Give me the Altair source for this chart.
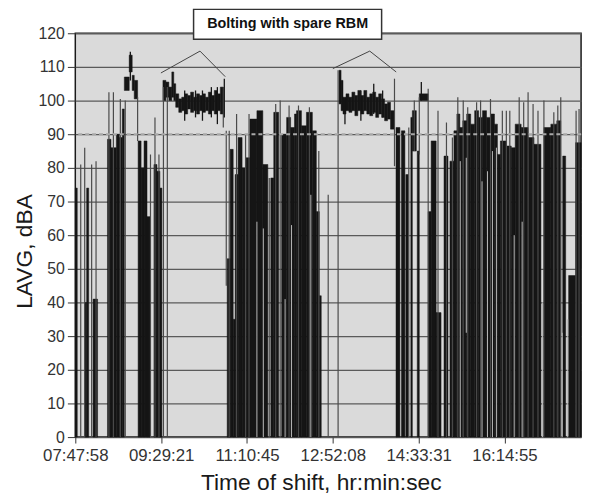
import altair as alt
import pandas as pd

# time axis: elapsed minutes since 07:47:58
tick_vals = [0, 101.39, 202.78, 304.17, 405.56, 506.95]
tick_labels = ["07:47:58", "09:29:21", "11:10:45", "12:52:08", "14:33:31", "16:14:55"]
y_ticks = list(range(0, 121, 10))

# dense noise bursts (start min, end min, low dBA, high dBA)
noise_blocks = [
    (0.0, 2.3, 0, 74), (11.1, 13.4, 0, 40), (13.4, 15.8, 0, 74), (21.0, 26.3, 0, 41),
    (38.0, 42.1, 0, 88.5), (42.1, 48.5, 0, 86), (48.5, 52.0, 0, 90), (52.0, 55.5, 0, 89),
    (55.5, 57.9, 0, 97.5), (57.9, 63.7, 103, 107), (63.7, 67.2, 108.5, 113.5),
    (67.2, 69.6, 103, 107.5), (69.6, 73.6, 100.5, 106), (74.2, 77.7, 0, 88),
    (77.7, 81.2, 0, 80), (81.2, 84.7, 0, 88), (84.7, 88.3, 0, 65.5), (92.9, 96.4, 0, 81),
    (96.4, 99.9, 0, 79), (99.9, 102.3, 0, 74),
]
bolting1 = [
    (103.5, 107.0, 100, 106), (107.0, 110.5, 101, 105.5), (110.5, 114.0, 100, 104),
    (114.0, 116.3, 101, 108.5), (116.3, 118.6, 100, 105), (118.6, 122.2, 98, 102),
    (122.2, 125.7, 96.5, 100.5), (125.7, 129.2, 97, 101), (129.2, 132.7, 96, 102),
    (132.7, 136.2, 97.5, 101.5), (136.2, 139.7, 96.5, 102.5), (139.7, 143.2, 97, 101),
    (143.2, 146.7, 96, 102), (146.7, 150.2, 97, 101.5), (150.2, 153.7, 96.5, 102),
    (153.7, 157.2, 97, 101), (157.2, 160.7, 96, 102.5), (160.7, 164.2, 97, 101.5),
    (164.2, 167.8, 96, 103), (167.8, 171.3, 97, 102), (171.3, 174.8, 96, 104),
]
midday_blocks = [
    (179.4, 182.9, 0, 53), (182.9, 186.5, 0, 85.5), (186.5, 188.8, 0, 35),
    (188.8, 192.3, 0, 78), (192.3, 197.0, 0, 89), (197.0, 201.7, 0, 80),
    (201.7, 206.3, 0, 83), (206.3, 214.5, 0, 94.5), (214.5, 221.5, 0, 97),
    (221.5, 227.4, 0, 81), (230.9, 234.4, 0, 77), (234.4, 240.2, 0, 96.5),
    (243.7, 249.6, 0, 90), (249.6, 254.3, 0, 95), (254.3, 258.9, 0, 92),
    (258.9, 261.3, 0, 96), (261.3, 267.1, 0, 97), (267.1, 273.0, 0, 92.5),
    (273.0, 280.0, 0, 96.5), (280.0, 284.7, 0, 91), (284.7, 288.2, 0, 67),
    (288.2, 290.5, 0, 42),
]
bolting2 = [
    (311.5, 313.9, 99, 109), (313.9, 316.2, 97, 106), (316.2, 319.7, 96, 101),
    (319.7, 323.2, 97, 102), (323.2, 326.7, 96.5, 101), (326.7, 330.2, 97, 102.5),
    (330.2, 333.7, 95.5, 101.5), (333.7, 337.3, 97, 103), (337.3, 340.8, 96, 101.5),
    (340.8, 344.3, 97, 103), (344.3, 347.8, 96, 101), (347.8, 351.3, 95.5, 102),
    (351.3, 354.8, 96.5, 102.5), (354.8, 358.3, 95, 101), (358.3, 361.8, 96, 102),
    (361.8, 365.3, 95, 100.5), (365.3, 368.8, 94, 99), (368.8, 372.3, 94.5, 99.5),
    (372.3, 377.0, 91.5, 97),
]
late_blocks = [
    (378.8, 383.4, 0, 92), (385.2, 389.3, 0, 91), (390.4, 393.3, 0, 78),
    (396.3, 398.1, 0, 95), (398.1, 402.8, 85, 97), (403.9, 406.3, 0, 85),
    (406.3, 416.8, 100, 102), (416.8, 420.3, 0, 67), (420.3, 426.2, 0, 88),
    (426.2, 432.0, 0, 37), (435.5, 440.2, 0, 83.5), (442.5, 447.2, 0, 82),
    (447.2, 450.7, 0, 91), (450.7, 454.2, 0, 96), (454.2, 457.7, 0, 92),
    (457.7, 462.3, 0, 94), (462.3, 467.0, 0, 96), (467.0, 471.7, 0, 93),
    (471.7, 476.4, 0, 97), (476.4, 481.0, 0, 95), (481.0, 485.7, 0, 97),
    (485.7, 490.4, 0, 95), (490.4, 495.1, 0, 96), (495.1, 498.6, 0, 93),
    (498.6, 502.1, 0, 84), (502.1, 509.1, 0, 88), (509.1, 514.9, 0, 86.5),
    (514.9, 519.6, 0, 86), (519.6, 526.6, 0, 93), (526.6, 534.8, 0, 92),
    (534.8, 541.8, 0, 89), (541.8, 550.0, 0, 87), (553.5, 561.7, 0, 92),
    (561.7, 568.7, 0, 93), (568.7, 573.4, 0, 94), (575.7, 579.2, 0, 83.5),
    (582.7, 590.9, 0, 48), (590.9, 597.4, 0, 87.5),
]

# single-sample excursions (minute, low, high)
spikes = [
    (6.4, 0, 81), (11.1, 0, 86), (19.3, 0, 81), (24.5, 0, 82), (39.7, 0, 102.5),
    (45.0, 0, 102.5), (53.2, 0, 100.5), (59.0, 0, 100), (73.6, 88, 101), (88.8, 0, 84),
    (94.1, 0, 95), (98.8, 0, 84), (104.1, 0, 104), (108.7, 0, 104), (174.8, 92, 104),
    (178.3, 45, 91), (181.8, 0, 91), (190.5, 0, 96), (201.1, 0, 90), (205.2, 0, 96),
    (229.1, 0, 77), (236.7, 0, 99), (242.0, 0, 100), (252.5, 0, 98.5), (263.6, 0, 98.5),
    (276.5, 0, 98), (287.6, 0, 85), (298.7, 0, 72), (310.4, 0, 109), (377.0, 80.5, 106.5),
    (393.9, 0, 92), (400.4, 85, 100), (406.3, 84, 101), (416.8, 0, 103.5), (428.4, 0, 97),
    (438.4, 0, 93.5), (445.4, 0, 89), (451.8, 0, 101), (458.2, 0, 100), (463.5, 0, 98),
    (474.0, 0, 99.5), (478.7, 0, 100), (490.4, 0, 100.5), (504.4, 0, 97), (509.1, 0, 97),
    (513.2, 0, 97), (524.3, 0, 101), (529.6, 0, 99.5), (534.8, 0, 102.5), (540.7, 0, 99),
    (546.5, 0, 97), (553.5, 0, 100), (565.2, 0, 96.5), (569.9, 0, 98.5), (573.4, 0, 101),
    (591.5, 0, 97), (595.0, 0, 97.5),
]
trace_spikes = [
    (65.0, 106, 114.5), (129.2, 94, 103), (142.0, 95, 103), (150.2, 94, 103),
    (160.7, 95, 104), (167.8, 93, 104), (176.0, 95, 106.5), (318.5, 93, 100),
    (337.3, 94, 103), (352.5, 96, 105), (363.0, 95, 103), (408.7, 100, 105.5),
]
# quiet dips inside bursts (minute, low, high)
gaps = [
    (214.5, 0, 64), (222.1, 0, 62), (247.8, 0, 41), (255.4, 0, 63), (278.2, 0, 72),
    (454.7, 0, 82), (461.8, 31, 83), (480.4, 0, 76), (486.9, 0, 79), (492.7, 0, 85),
    (497.4, 0, 86), (518.4, 0, 60), (527.8, 0, 64), (551.8, 0, 40), (575.1, 0, 31),
    (581.6, 0, 35),
]
limit_db = [90]

# annotation
note_text = "Bolting with spare RBM"
note_box = (139.7, 361.8, 118.2, 127.1)
note_pos = (250.8, 122.6)
callout_a = [(101.1, 108.2), (147.3, 114.7), (177.1, 107.1)]
callout_b = [(304.2, 109.5), (347.8, 114.7), (379.0, 108.5)]

FONT = "Liberation Sans"
BLACK = "#151515"

blocks_df = pd.DataFrame(noise_blocks + bolting1 + midday_blocks + bolting2 + late_blocks,
                         columns=["t", "t2", "y", "y2"])
spikes_df = pd.DataFrame(spikes, columns=["t", "y", "y2"])
trace_df = pd.DataFrame(trace_spikes, columns=["t", "y", "y2"])
gaps_df = pd.DataFrame(gaps, columns=["t", "y", "y2"])
limit_df = pd.DataFrame({"y": limit_db})
call_df = pd.DataFrame(
    [dict(t=t, y=v, g="a", i=i) for i, (t, v) in enumerate(callout_a)]
    + [dict(t=t, y=v, g="b", i=i) for i, (t, v) in enumerate(callout_b)]
)
box_df = pd.DataFrame([dict(t=note_box[0], t2=note_box[1], y=note_box[2], y2=note_box[3])])
text_df = pd.DataFrame([dict(t=note_pos[0], y=note_pos[1], label=note_text)])

label_expr = "[" + ",".join("'%s'" % s for s in tick_labels) + "][round(datum.value / 101.39)]"

X = alt.X(
    "t:Q",
    scale=alt.Scale(domain=[0, 597.4], nice=False, zero=False),
    axis=alt.Axis(
        values=tick_vals, labelExpr=label_expr, labelOverlap=False, labelFlush=False,
        grid=False, tickSize=6, labelPadding=5,
        labelFontSize=17, labelFont=FONT, labelColor="#333333", tickColor="#333333",
        domain=False, title="Time of shift, hr:min:sec", titleFont=FONT, titleFontSize=23,
        titleFontWeight="normal", titleColor="#1a1a1a", titleX=248, titleY=53,
        titleBaseline="alphabetic", titleAlign="center",
    ),
)
Y = alt.Y(
    "y:Q",
    scale=alt.Scale(domain=[0, 120], nice=False),
    axis=alt.Axis(
        values=y_ticks, grid=True, gridColor="#5a5a5a", gridWidth=1.3, tickSize=8,
        labelPadding=3, labelFontSize=16, labelFont=FONT, labelColor="#333333",
        tickColor="#333333", domain=False, title="LAVG, dBA", titleFont=FONT,
        titleFontSize=23, titleFontWeight="normal", titleColor="#1a1a1a",
        titleX=-44, titleY=220, titleAngle=270, titleBaseline="alphabetic",
        titleAlign="center",
    ),
)

blocks = alt.Chart(blocks_df).mark_rect(color=BLACK, stroke=BLACK, strokeWidth=0.5).encode(
    x=X, x2="t2:Q", y=Y, y2="y2:Q")
spike_l = alt.Chart(spikes_df).mark_rule(color="#4a4a4a", strokeWidth=1.2).encode(
    x=X, y=Y, y2="y2:Q")
trace_l = alt.Chart(trace_df).mark_rule(color=BLACK, strokeWidth=1.3).encode(
    x=X, y=Y, y2="y2:Q")
gap_l = alt.Chart(gaps_df).mark_rule(color="#b8b8b8", strokeWidth=1).encode(
    x=X, y=Y, y2="y2:Q")
limit_l = alt.Chart(limit_df).mark_rule(color="#a8a8a8", strokeWidth=2, strokeDash=[4, 3]).encode(
    y=Y)
call_l = alt.Chart(call_df).mark_line(color="#444444", strokeWidth=1).encode(
    x=X, y=Y, detail="g:N", order="i:Q")
box = alt.Chart(box_df).mark_rect(fill="white", stroke="#333333", strokeWidth=1.5).encode(
    x=X, x2="t2:Q", y=Y, y2="y2:Q")
text = alt.Chart(text_df).mark_text(font=FONT, fontSize=14.5, fontWeight="bold", color="#111111",
                                    baseline="middle", align="center").encode(
    x=X, y=Y, text="label:N")

chart = alt.layer(blocks, spike_l, trace_l, gap_l, limit_l, call_l, box, text).properties(
    width=511, height=408,
    autosize=alt.AutoSizeParams(type="none"),
    padding={"left": 68, "top": 23, "right": 8, "bottom": 58},
).configure_view(fill="#dadada", stroke="#1a1a1a", strokeWidth=1.5)

chart.save("out.html", embed_options={"renderer": "svg", "actions": False})
